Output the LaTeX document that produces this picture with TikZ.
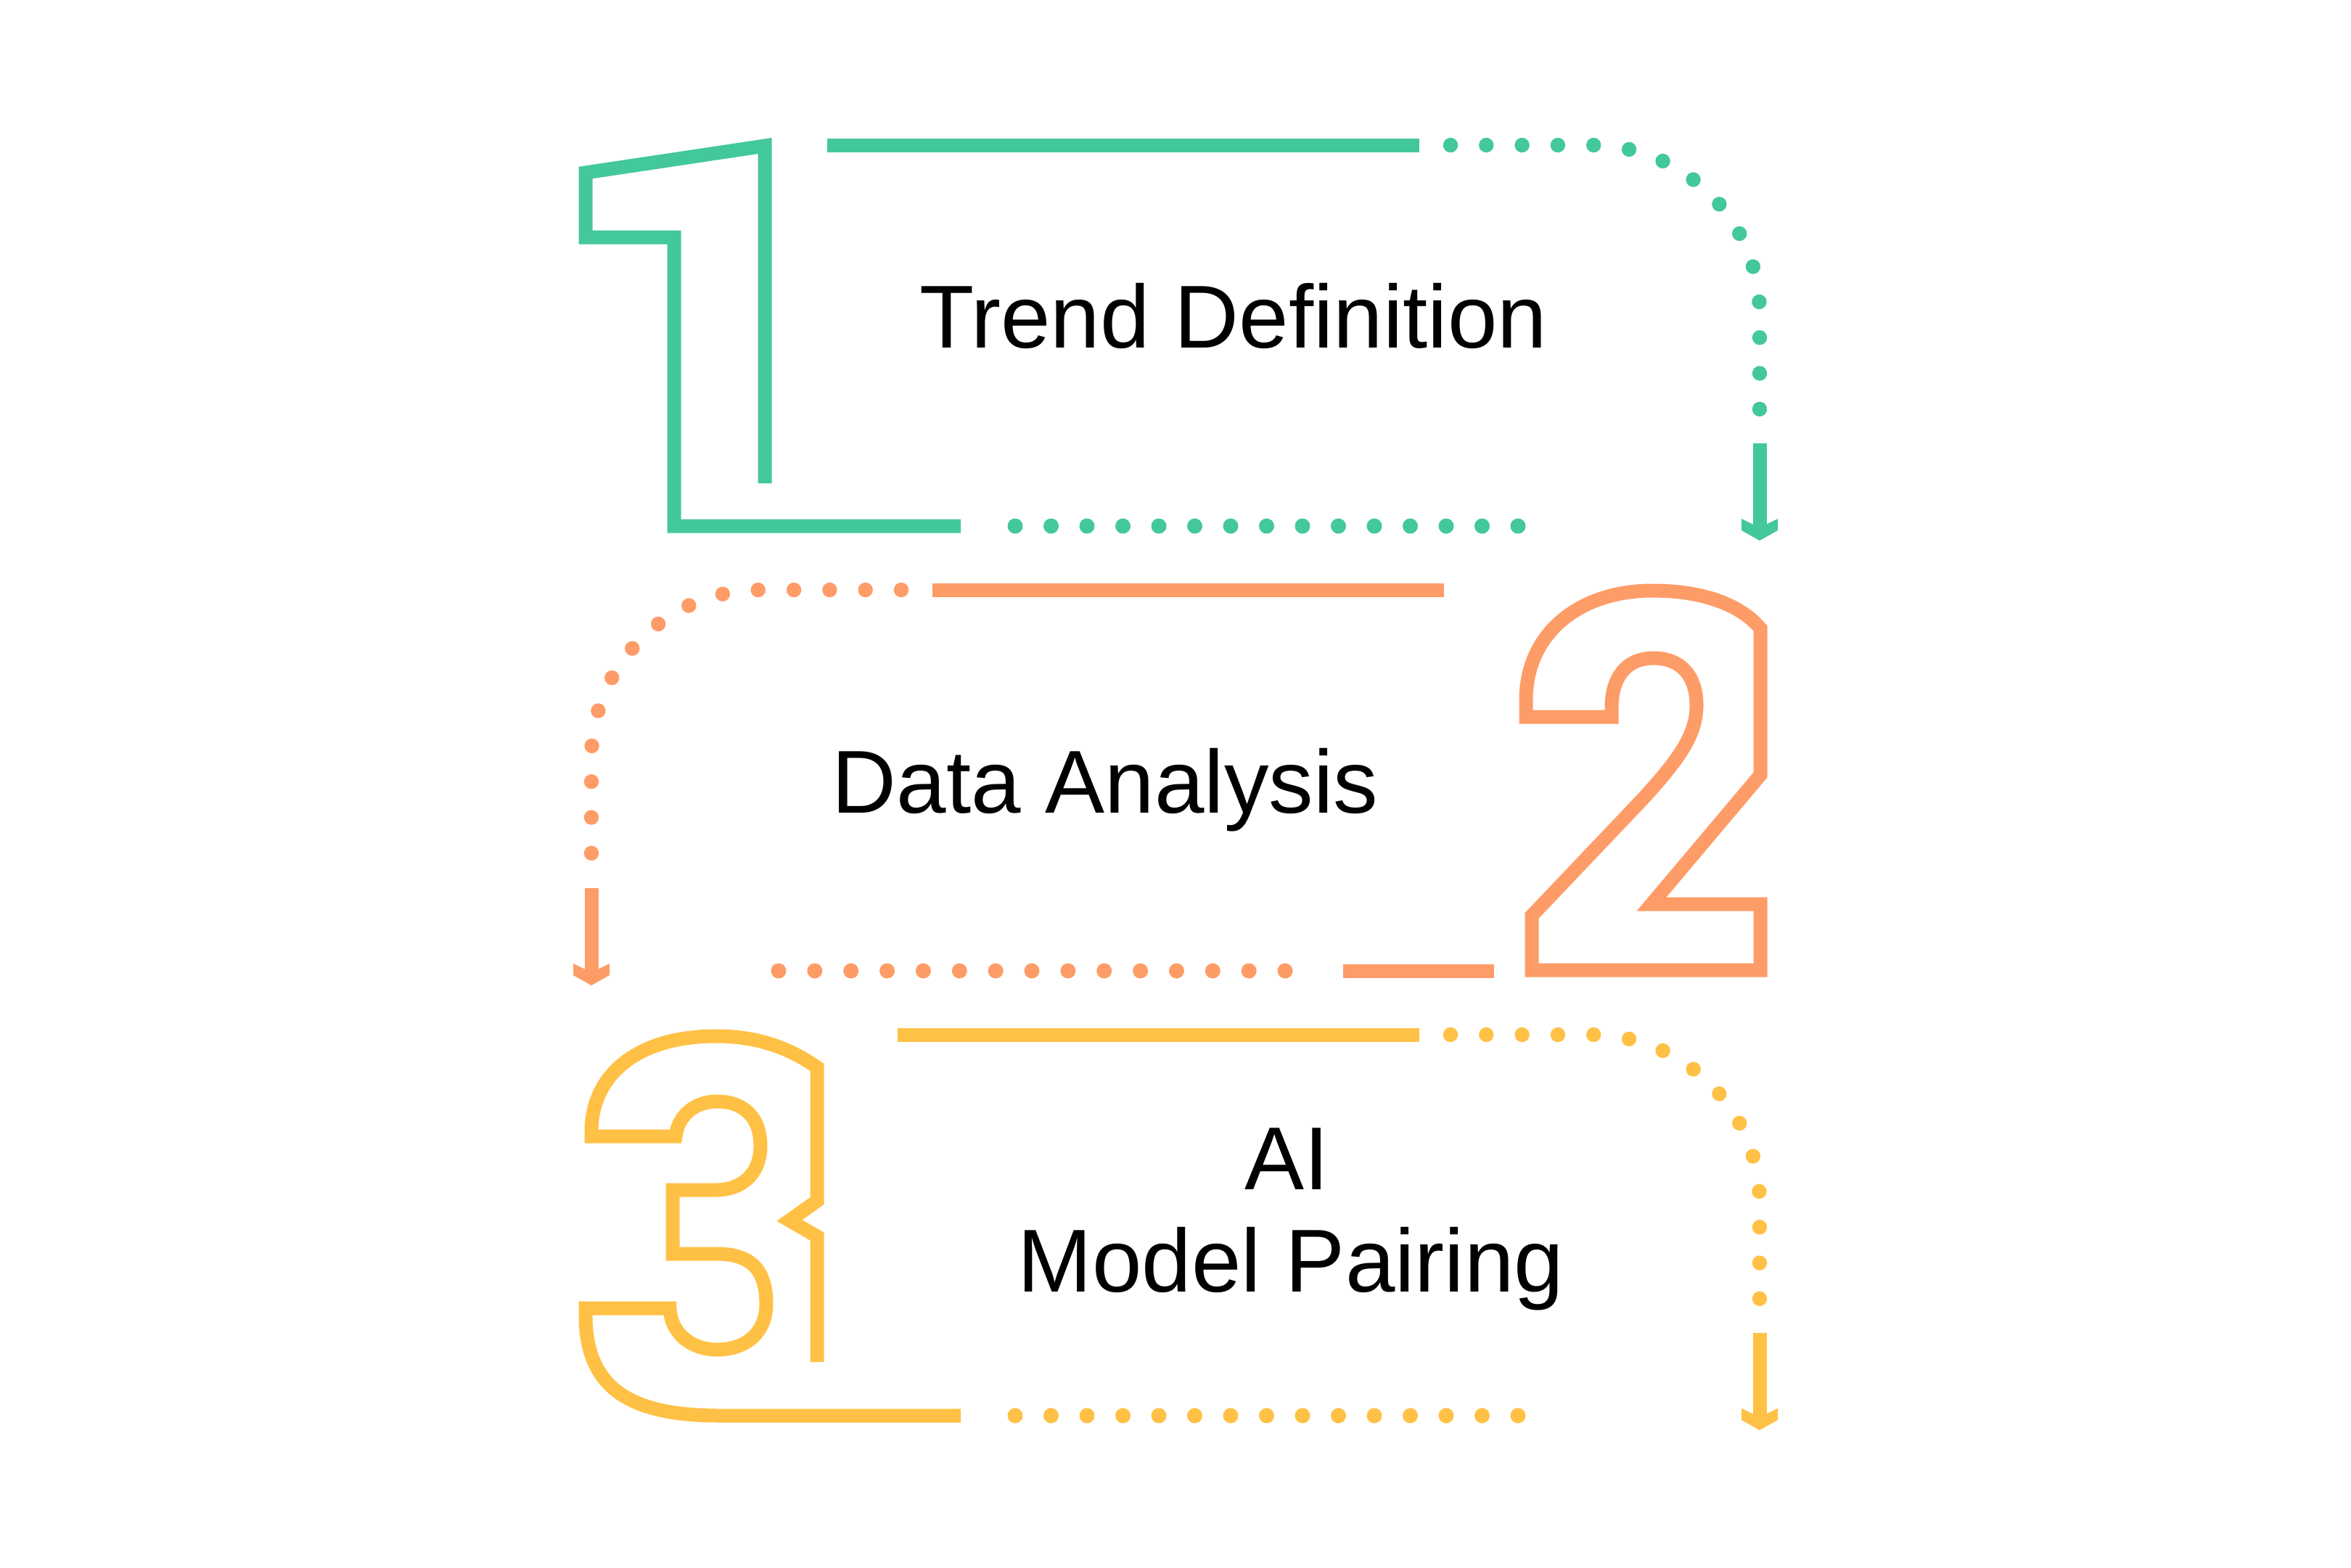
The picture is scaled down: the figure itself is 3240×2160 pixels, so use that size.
\documentclass[tikz,border=0pt]{standalone}
\usepackage{fontspec}
\setmainfont{Liberation Sans}
\usepackage{xcolor}
\definecolor{stepGreen}{HTML}{43C89A}
\definecolor{stepOrange}{HTML}{FE9C67}
\definecolor{stepYellow}{HTML}{FFC145}
\newcommand{\strokeWidth}{5.4pt}
\newcommand{\dotWidth}{5.8pt}
\newcommand{\dotGap}{14.02pt}
\newcommand{\dotRadius}{10.5}
\newcommand{\labelSize}{\fontsize{35}{42}\selectfont}

\tikzset{
  outline/.style={line width=\strokeWidth, line join=miter},
  dotline/.style={line width=\dotWidth, line cap=round, dash pattern=on 0pt off \dotGap},
  steplabel/.style={font=\labelSize, anchor=base, inner sep=0pt},
  headdown/.pic={\fill (-25,-30) -- (0,-18) -- (25,-30) -- (25,-14) -- (0,0) -- (-25,-14) -- cycle;}
}

\begin{document}
\begin{tikzpicture}[x=0.01cm, y=-0.01cm]

\useasboundingbox[fill=white] (0,0) rectangle (3240,2160);

% step 1
\draw[outline, stepGreen] (1054,666) -- (1054,201) -- (807,238) -- (807,327) -- (929,327) -- (929,725) -- (1324,725);
\draw[outline, stepGreen] (1140,200) -- (1956,200);
\draw[dotline, stepGreen] (1999,200) -- (2193,200) .. controls (2321,200) and (2425,304) .. (2425,432) -- (2425,567);
\draw[outline, stepGreen] (2425,611) -- (2425,727);
\pic[color=stepGreen] at (2425,745) {headdown};
\foreach \i in {0,...,14}
   \fill[stepGreen] (1399+49.5*\i,725) circle (\dotRadius);
\node[steplabel] (trendDef) at (1700,479) {Trend Definition};

% step 2
\draw[outline, stepOrange] (2426,960) -- (2426,1068) -- (2276,1246) -- (2426,1246) -- (2426,1337) -- (2111,1337) -- (2111,1262) -- (2265,1100)
   .. controls (2318,1042) and (2338,1010) .. (2338,972)
   .. controls (2338,930) and (2315,907) .. (2279,907)
   .. controls (2240,907) and (2221,935) .. (2221,975) -- (2221,988) -- (2103,988) -- (2103,965)
   .. controls (2103,870) and (2180,814) .. (2277,814)
   .. controls (2350,814) and (2400,835) .. (2426,866) -- cycle;
\draw[outline, stepOrange] (1285,813) -- (1990,813);
\draw[dotline, stepOrange] (1242,813) -- (1047,813) .. controls (919,813) and (815,917) .. (815,1045) -- (815,1180);
\draw[outline, stepOrange] (815,1224) -- (815,1340);
\pic[color=stepOrange] at (815,1358) {headdown};
\foreach \i in {0,...,14}
   \fill[stepOrange] (1073+49.86*\i,1338) circle (\dotRadius);
\draw[outline, stepOrange] (1851,1338) -- (2059,1338);
\node[steplabel] (dataAna) at (1523,1120) {Data Analysis};

% step 3
\draw[outline, stepYellow] (1126,1877) -- (1126,1704) -- (1088,1682) -- (1126,1655) -- (1126,1471)
   .. controls (1085,1442) and (1040,1428) .. (987,1428)
   .. controls (880,1428) and (815,1480) .. (815,1560) -- (815,1566) -- (931,1566)
   .. controls (935,1535) and (960,1518) .. (988,1518)
   .. controls (1025,1518) and (1048,1540) .. (1048,1579)
   .. controls (1048,1620) and (1020,1640) .. (987,1640) -- (927,1640) -- (927,1728) -- (987,1728)
   .. controls (1030,1728) and (1056,1745) .. (1056,1797)
   .. controls (1056,1835) and (1030,1860) .. (988,1860)
   .. controls (955,1860) and (925,1840) .. (923,1803) -- (807,1803) -- (807,1812)
   .. controls (807,1915) and (870,1951) .. (993,1951) -- (1324,1951);
\draw[outline, stepYellow] (1237,1426) -- (1956,1426);
\draw[dotline, stepYellow] (1999,1426) -- (2193,1426) .. controls (2321,1426) and (2425,1530) .. (2425,1658) -- (2425,1793);
\draw[outline, stepYellow] (2425,1837) -- (2425,1953);
\pic[color=stepYellow] at (2425,1971) {headdown};
\foreach \i in {0,...,14}
   \fill[stepYellow] (1399+49.5*\i,1951) circle (\dotRadius);
\node[steplabel] (aiTop) at (1774,1639) {AI};
\node[steplabel] (aiModel) at (1779,1780) {Model Pairing};

\end{tikzpicture}
\end{document}
